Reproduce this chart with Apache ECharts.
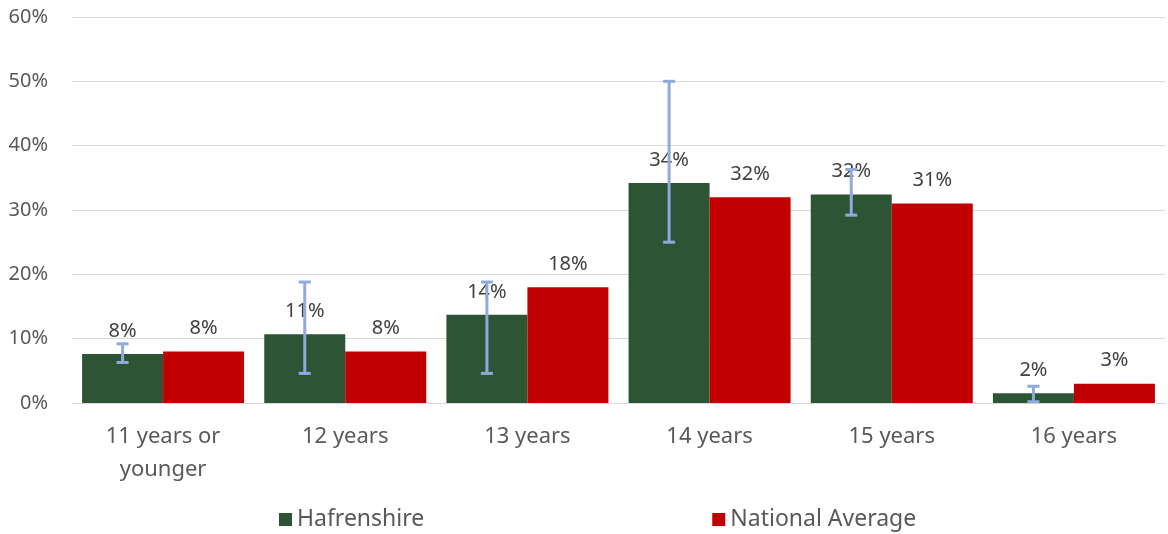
<!DOCTYPE html>
<html>
<head>
<meta charset="utf-8">
<script src="https://cdn.jsdelivr.net/npm/echarts@6/dist/echarts.min.js"></script>
<style>html,body{margin:0;padding:0;background:#fff;}#c{width:1168px;height:534px;}</style>
</head>
<body>
<div id="c"></div>
<script>
const categories = ['11 years or\nyounger', '12 years', '13 years', '14 years', '15 years', '16 years'];
const hafrenshire = [7.6, 10.7, 13.7, 34.2, 32.4, 1.5];
const national = [8, 8, 18, 32, 31, 3];
const errLow = [6.3, 4.6, 4.6, 25, 29.2, 0.2];
const errHigh = [9.2, 18.8, 18.8, 50, 36.3, 2.6];
const yTicks = [0, 10, 20, 30, 40, 50, 60];

const FONT = '"Noto Sans", "Open Sans", sans-serif';
const BAR_W = 81;
const chart = echarts.init(document.getElementById('c'), null, {renderer: 'canvas'});
const errData = categories.map((c, i) => [i, errLow[i], errHigh[i]]);

chart.setOption({
  animation: false,
  grid: {left: 72, right: 3, top: 17, bottom: 131},
  legend: {
    data: ['Hafrenshire', 'National Average'],
    left: 274, top: 503,
    itemWidth: 13, itemHeight: 13, itemGap: 288,
    icon: 'rect',
    textStyle: {fontFamily: FONT, fontSize: 23, color: '#595959'}
  },
  xAxis: {
    type: 'category', data: categories,
    axisTick: {show: false},
    axisLine: {lineStyle: {color: '#d9d9d9', width: 1}},
    axisLabel: {fontFamily: FONT, fontSize: 22, color: '#595959', margin: 17, lineHeight: 33, interval: 0}
  },
  yAxis: {
    type: 'value', min: yTicks[0], max: yTicks[yTicks.length - 1], interval: 10,
    axisLine: {show: false}, axisTick: {show: false},
    splitLine: {lineStyle: {color: '#d9d9d9', width: 1}},
    axisLabel: {fontFamily: FONT, fontSize: 20, color: '#595959', margin: 24, formatter: '{value}%'}
  },
  series: [
    {
      name: 'Hafrenshire', type: 'bar', data: hafrenshire, barWidth: BAR_W, barGap: 0,
      itemStyle: {color: '#2E5436'},
      label: {show: true, position: 'top', distance: 13, fontFamily: FONT, fontSize: 20, color: '#404040',
        formatter: p => Math.round(p.value) + '%'}
    },
    {
      name: 'National Average', type: 'bar', data: national, barWidth: BAR_W, barGap: 0,
      itemStyle: {color: '#C00000'},
      label: {show: true, position: 'top', distance: 13, fontFamily: FONT, fontSize: 20, color: '#404040',
        formatter: p => Math.round(p.value) + '%'}
    },
    {
      name: 'err', type: 'custom', data: errData, z: 10,
      renderItem: function (params, api) {
        const i = api.value(0);
        const lo = api.coord([i, api.value(1)]);
        const hi = api.coord([i, api.value(2)]);
        const x = lo[0] - BAR_W / 2;
        const style = {stroke: '#8FAADC', lineWidth: 3};
        const cap = 6;
        return {
          type: 'group',
          children: [
            {type: 'line', shape: {x1: x, y1: lo[1], x2: x, y2: hi[1]}, style: style},
            {type: 'line', shape: {x1: x - cap, y1: lo[1], x2: x + cap, y2: lo[1]}, style: style},
            {type: 'line', shape: {x1: x - cap, y1: hi[1], x2: x + cap, y2: hi[1]}, style: style}
          ]
        };
      }
    }
  ]
});
</script>
</body>
</html>
